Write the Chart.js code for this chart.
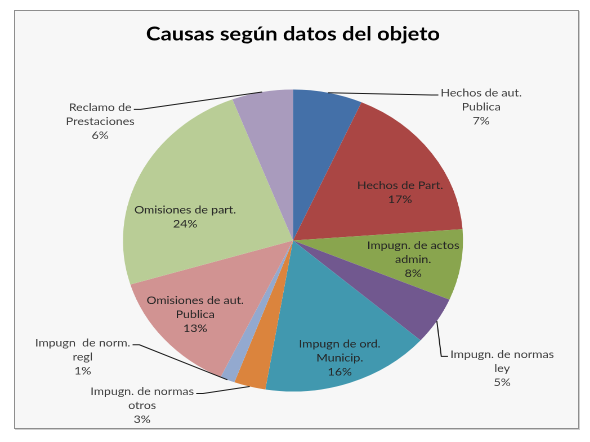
<!DOCTYPE html>
<html>
<head>
<meta charset="utf-8">
<script src="https://cdn.jsdelivr.net/npm/chart.js@4"></script>
<style>
  body { margin: 0; background: #fff; }
  #frame {
    position: absolute; left: 14px; top: 10px; width: 563px; height: 417px;
    border: 1px solid #8e8e8e; background: #f7f7f7; box-shadow: 1px 1px 0 #cfcfcf;
  }
  /* the reference picture is stretched sideways, so the chart is too */
  #wrap {
    position: absolute; left: 0; top: 0; width: 524px; height: 442px;
    transform: scaleX(1.126); transform-origin: 0 0;
  }
</style>
</head>
<body>
<div id="frame"></div>
<div id="wrap"><canvas id="pie"></canvas></div>
<script>
const categories = [
  ["Hechos de aut.", "Publica"],
  ["Hechos de Part."],
  ["Impugn. de actos", "admin."],
  ["Impugn. de normas", "ley"],
  ["Impugn de ord.", "Municip."],
  ["Impugn. de normas", "otros"],
  ["Impugn  de norm.", "regl"],
  ["Omisiones de aut.", "Publica"],
  ["Omisiones de part."],
  ["Reclamo de", "Prestaciones"]
];
const values = [6.6, 17.2, 7.6, 5.1, 16.1, 3.0, 1.4, 13.3, 23.9, 5.8];
const colors = ["#4470A8", "#AA4644", "#89A54E", "#71588F", "#4198AF",
                "#DB843D", "#93A9CF", "#D19392", "#B9CD96", "#A99BBD"];

// where each label sits, relative to the pie centre, in units of the radius
const labelPos = [
  [1.107, -0.884], [0.63, -0.318], [0.707, 0.124], [1.23, 0.847], [0.275, 0.777],
  [-0.887, 1.093], [-1.237, 0.77], [-0.575, 0.489], [-0.634, -0.156], [-1.134, -0.789]
];
// outside labels get a leader line: "r" = label right of pie, "l" = left
const leaderSide = ["r", null, null, "r", null, "l", "l", null, null, "l"];

const total = values.reduce((a, b) => a + b, 0);

const labelPlugin = {
  id: "sliceLabels",
  afterDatasetsDraw(chart) {
    const ctx = chart.ctx;
    const meta = chart.getDatasetMeta(0);
    ctx.save();
    ctx.font = "11px Lato";
    ctx.textAlign = "center";
    ctx.textBaseline = "middle";
    meta.data.forEach((arc, i) => {
      const p = arc.getProps(["x", "y", "outerRadius", "startAngle", "endAngle"], true);
      const r = p.outerRadius;
      const lines = categories[i].concat([Math.round(values[i] / total * 100) + "%"]);
      const cx = p.x + labelPos[i][0] * r;
      const cy = p.y + labelPos[i][1] * r;
      const side = leaderSide[i];
      ctx.fillStyle = side ? "#404040" : "#262626";
      lines.forEach((t, k) => {
        ctx.fillText(t, cx, cy + (k - (lines.length - 1) / 2) * 14);
      });
      if (side) {
        const mid = (p.startAngle + p.endAngle) / 2;
        const ax = p.x + Math.cos(mid) * r;
        const ay = p.y + Math.sin(mid) * r;
        const w = ctx.measureText(lines[0]).width;
        const ly = cy - (lines.length - 1) / 2 * 14 + 2;
        const lx = side === "r" ? cx - w / 2 - 2 : cx + w / 2 + 2;
        const ex = side === "r" ? lx - 6 : lx + 6;
        ctx.strokeStyle = "#1a1a1a";
        ctx.lineWidth = 1;
        ctx.beginPath();
        ctx.moveTo(ax, ay);
        ctx.lineTo(ex, ly);
        ctx.lineTo(lx, ly);
        ctx.stroke();
      }
    });
    ctx.restore();
  }
};

new Chart(document.getElementById("pie"), {
  type: "pie",
  data: {
    labels: categories,
    datasets: [{
      data: values,
      backgroundColor: colors,
      borderWidth: 0,
      hoverOffset: 0
    }]
  },
  options: {
    responsive: true,
    maintainAspectRatio: false,
    devicePixelRatio: 2,
    animation: false,
    layout: { padding: { top: 10, bottom: 50.5, left: 60, right: 63.6 } },
    plugins: {
      legend: { display: false },
      tooltip: { enabled: false },
      title: {
        display: true,
        text: "Causas según datos del objeto",
        color: "#000",
        font: { family: "Lato", size: 19.5, weight: "bold", lineHeight: 1.2 },
        padding: { top: 12.5, bottom: 43.6 }
      }
    }
  },
  plugins: [labelPlugin]
});
</script>
</body>
</html>
